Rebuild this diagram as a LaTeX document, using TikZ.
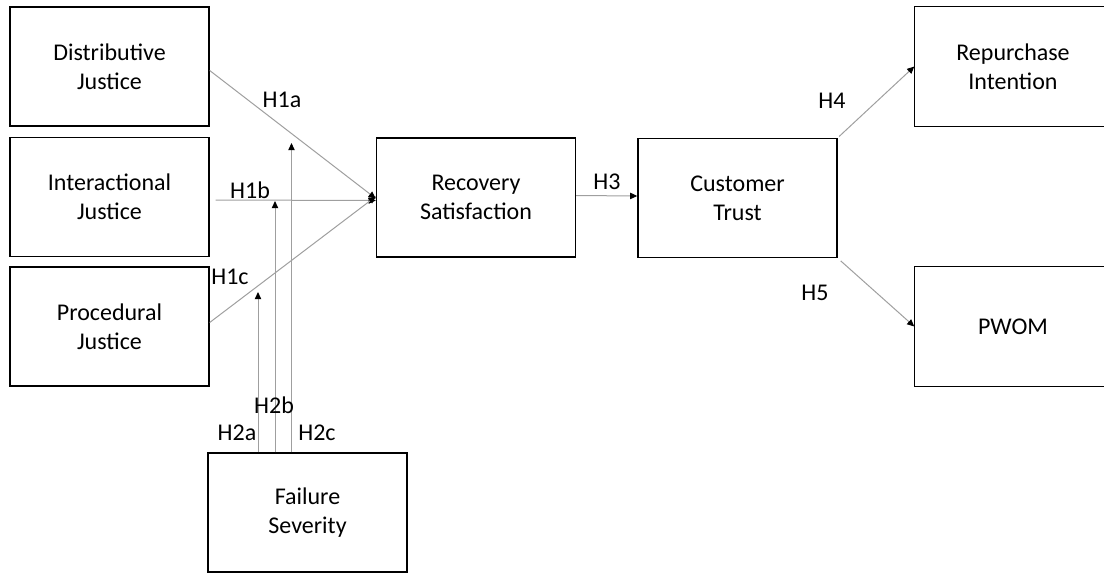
\documentclass[tikz,border=0pt]{standalone}
\usepackage{fontspec}
\setmainfont{Carlito}
\usetikzlibrary{arrows.meta}

\tikzset{
  construct/.style={draw, line width=0.7pt, minimum width=99.5pt, minimum height=59.5pt,
    align=center, font=\fontsize{12}{14.5}\selectfont},
  cutbox/.style={construct, draw=none, minimum width=110pt},
  link/.style={draw=gray!75, line width=0.5pt, -{Triangle[length=3.6pt,width=3.2pt,color=black]}},
  hyp/.style={font=\fontsize{12}{14}\selectfont, inner sep=0pt}
}

\begin{document}
\begin{tikzpicture}[x=0.5pt, y=-0.5pt]
  \useasboundingbox (0,0) rectangle (1104,573);

  % constructs
  \node [construct](dist) at (109.5,66.5) {Distributive\\Justice};
  \node [construct](inter) at (109.5,197) {Interactional\\Justice};
  \node [construct](proc) at (109.5,326.5) {Procedural\\Justice};
  \node [construct](rec) at (476,197.5) {Recovery\\Satisfaction};
  \node [construct](trust) at (737.5,198) {Customer\\Trust};
  \node [cutbox](rep) at (1025,66.5) {\hspace*{-12pt}Repurchase\\\hspace*{-12pt}Intention};
  \node [cutbox](pwom) at (1025,326.5) {\hspace*{-12pt}PWOM};
  \node [construct](fail) at (307.5,512.5) {Failure\\Severity};
  % the right sides run off the page
  \draw [line width=0.7pt] (1104,0 |- rep.north) -- (rep.north west) -- (rep.south west) -- (1104,0 |- rep.south);
  \draw [line width=0.7pt] (1104,0 |- pwom.north) -- (pwom.north west) -- (pwom.south west) -- (1104,0 |- pwom.south);

  % ends of the moderating arrows
  \coordinate (ma) at (258,292);
  \coordinate (mb) at (275,201);
  \coordinate (mc) at (291.5,143);

  % direct paths
  \draw [link] ([yshift=-2pt]dist.east) -- ([yshift=-0.5pt]rec.west);
  \draw [link, shorten <=3pt] ([yshift=-1.5pt]inter.east) -- ([yshift=-1.5pt]rec.west);
  \draw [link] ([yshift=2pt]proc.east) -- ([yshift=0.5pt]rec.west);
  \draw [link] ([yshift=1pt]rec.east) -- ([yshift=1pt]trust.west);
  \draw [link, shorten <=1pt] (trust.north east) -- (rep.west);
  \draw [link, shorten <=2pt] (trust.south east) -- (pwom.west);

  % moderation
  \draw [link] (fail.north -| ma) -- (ma);
  \draw [link] (fail.north -| mb) -- (mb);
  \draw [link] (fail.north -| mc) -- (mc);

  % hypotheses
  \node [hyp](h1a) at (282,100) {H1a};
  \node [hyp](h1b) at (250,190) {H1b};
  \node [hyp](h1c) at (230,277) {H1c};
  \node [hyp](h2a) at (237,433) {H2a};
  \node [hyp](h2b) at (274,405) {H2b};
  \node [hyp](h2c) at (317,433) {H2c};
  \node [hyp](h3) at (607,182) {H3};
  \node [hyp](h4) at (832,101) {H4};
  \node [hyp](h5) at (815,293) {H5};
\end{tikzpicture}
\end{document}
